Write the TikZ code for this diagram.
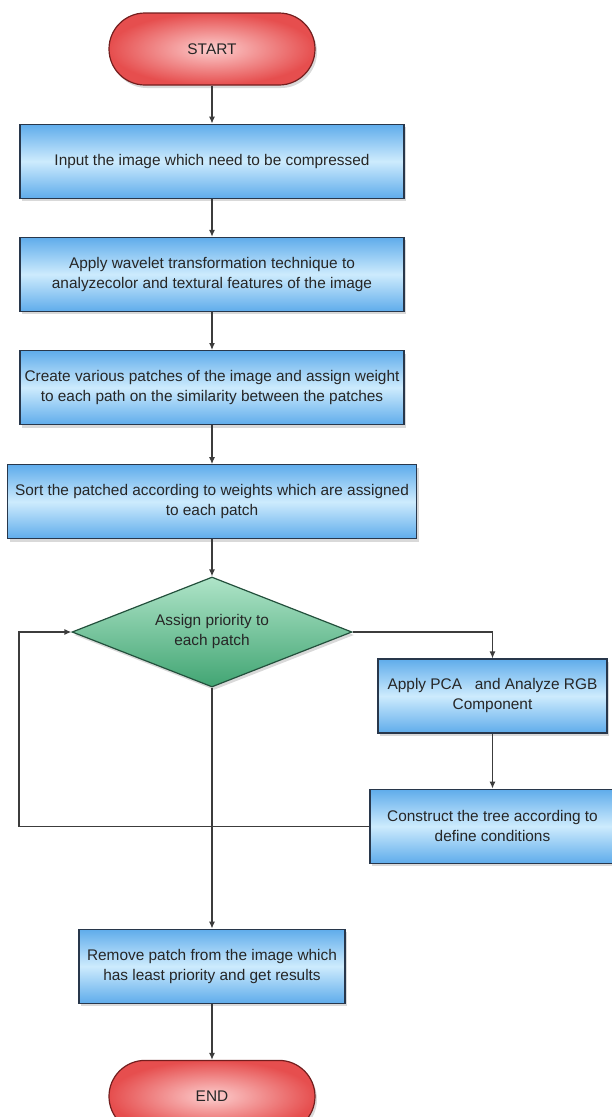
\documentclass[tikz,border=0pt]{standalone}
\usepackage{fontspec}
\setmainfont{Liberation Sans}
\usepackage{xcolor}
\usetikzlibrary{positioning,arrows.meta,shapes.geometric,shadows,calc}

\definecolor{bxlight}{RGB}{205,235,253}
\definecolor{bxdark}{RGB}{95,172,235}
\definecolor{bxline}{RGB}{40,55,75}
\definecolor{tmlight}{RGB}{252,205,205}
\definecolor{tmdark}{RGB}{230,78,78}
\definecolor{tmline}{RGB}{115,30,30}
\definecolor{dmlight}{RGB}{175,228,200}
\definecolor{dmdark}{RGB}{65,165,115}
\definecolor{dmline}{RGB}{35,80,60}
\definecolor{lnk}{RGB}{60,60,60}

\begin{document}
\begin{tikzpicture}[x=1pt, y=1pt,
  node distance=38pt,
  every node/.style={font=\fontsize{15.4}{20}\selectfont, text=black!85},
  shd/.style={drop shadow={shadow xshift=2pt, shadow yshift=-3pt, opacity=0.3}},
  term/.style={draw=tmline, line width=1.2pt, rounded corners=36pt, minimum width=206pt, minimum height=72pt, inner color=tmlight, outer color=tmdark, shd},
  box/.style={draw=bxline, line width=1.2pt, align=center, minimum width=384pt, minimum height=74pt, inner sep=2pt, top color=bxdark, bottom color=bxdark, middle color=bxlight, shd},
  dec/.style={diamond, draw=dmline, line width=1.2pt, align=center, aspect=2.55, minimum width=280pt, minimum height=110pt, inner sep=0pt, top color=dmlight, bottom color=dmdark, shd},
  arr/.style={-{Latex[length=7pt, width=6pt]}, draw=lnk, line width=1.2pt}]
  \useasboundingbox (0,0) rectangle (611,-1117);
  % main column
  \node[term] (start) at (212,-49) {START};
  \node[box, below=of start] (inp) {Input the image which need to be compressed};
  \node[box, below=of inp] (wav) {Apply wavelet transformation technique to\\analyzecolor and textural features of the image};
  \node[box, below=of wav] (pat) {Create various patches of the image and assign weight\\to each path on the similarity between the patches};
  \node[box, below=39pt of pat, minimum width=409pt] (srt) {Sort the patched according to weights which are assigned\\to each patch};
  \node[dec, below=37pt of srt] (dia) {Assign priority to\\each patch};
  \node[box, below=241pt of dia, minimum width=266pt] (rem) {Remove patch from the image which\\has least priority and get results};
  \node[term, below=56pt of rem] (end) {END};
  % side column
  \node[box, minimum width=229pt] (pca) at (492.5,-696) {Apply PCA\ \ \ and Analyze RGB\\Component};
  \node[box, minimum width=245pt, below=55pt of pca] (tree) {Construct the tree according to\\define conditions};
  \coordinate (lp) at (19,0);
  \draw[arr] (start)--(inp); \draw[arr] (inp)--(wav); \draw[arr] (wav)--(pat); \draw[arr] (pat)--(srt); \draw[arr] (srt)--(dia);
  \draw[arr] (dia.east) -| (pca.north);
  \draw[arr] (pca)--(tree);
  \draw[arr] (tree.west) -- (tree.west -| lp) |- (dia.west);
  \draw[arr] (dia)--(rem); \draw[arr] (rem)--(end);
\end{tikzpicture}
\end{document}
